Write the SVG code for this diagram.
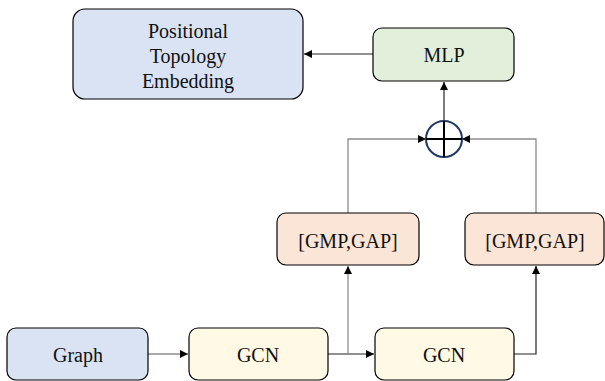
<svg xmlns="http://www.w3.org/2000/svg" width="605" height="381" viewBox="0 0 605 381">
<style>
.box{stroke:#000;stroke-width:1.2}
.t{font-family:"Liberation Serif","Times New Roman",serif;font-size:20px;fill:#111;text-anchor:middle}
.g{fill:none;stroke:#8c8c8c;stroke-width:1.3}
.k{fill:none;stroke:#222;stroke-width:1.2}
</style>
<defs>
<marker id="ah" viewBox="0 0 10 10" refX="10" refY="5" markerWidth="8" markerHeight="8" markerUnits="userSpaceOnUse" orient="auto">
<path d="M0,0 L10,5 L0,10 z" fill="#000"/>
</marker>
</defs>
<rect width="605" height="381" fill="#fff"/>
<g id="connectors">
<path class="k" d="M373,54 H304" marker-end="url(#ah)"/>
<path class="k" d="M444,121 V82" marker-end="url(#ah)"/>
<path class="g" d="M148,354 H188" marker-end="url(#ah)"/>
<path class="k" d="M328,354 H374" marker-end="url(#ah)"/>
<path class="g" d="M348,354 V266" marker-end="url(#ah)"/>
<path class="k" d="M514,354 H536 V266" marker-end="url(#ah)"/>
<path class="g" d="M348,213 V139 H426" marker-end="url(#ah)"/>
<path class="g" d="M536,213 V139 H462" marker-end="url(#ah)"/>
</g>
<g id="pte">
<rect class="box" x="73" y="9" width="230" height="90" rx="12" fill="#dae3f3"/>
<text class="t" x="188" y="38">Positional</text>
<text class="t" x="188" y="63">Topology</text>
<text class="t" x="188" y="88">Embedding</text>
</g>
<g id="mlp">
<rect class="box" x="373" y="28" width="141" height="53" rx="9" fill="#e2efda"/>
<text class="t" x="444" y="62">MLP</text>
</g>
<g id="sum">
<circle cx="444" cy="139" r="18" fill="#fff" stroke="#203864" stroke-width="2"/>
<path d="M426,139 H462 M444,121 V157" stroke="#000" stroke-width="2"/>
</g>
<g id="gmp1">
<rect class="box" x="277" y="213" width="142" height="52" rx="9" fill="#fbe5d6"/>
<text class="t" x="348" y="248">[GMP,GAP]</text>
</g>
<g id="gmp2">
<rect class="box" x="465" y="213" width="139" height="52" rx="9" fill="#fbe5d6"/>
<text class="t" x="535" y="248">[GMP,GAP]</text>
</g>
<g id="graph">
<rect class="box" x="7" y="328" width="141" height="52" rx="9" fill="#dae3f3"/>
<text class="t" x="78" y="362">Graph</text>
</g>
<g id="gcn1">
<rect class="box" x="189" y="328" width="139" height="52" rx="9" fill="#fff9e6"/>
<text class="t" x="258" y="362">GCN</text>
</g>
<g id="gcn2">
<rect class="box" x="375" y="328" width="139" height="52" rx="9" fill="#fff9e6"/>
<text class="t" x="444" y="362">GCN</text>
</g>
</svg>
